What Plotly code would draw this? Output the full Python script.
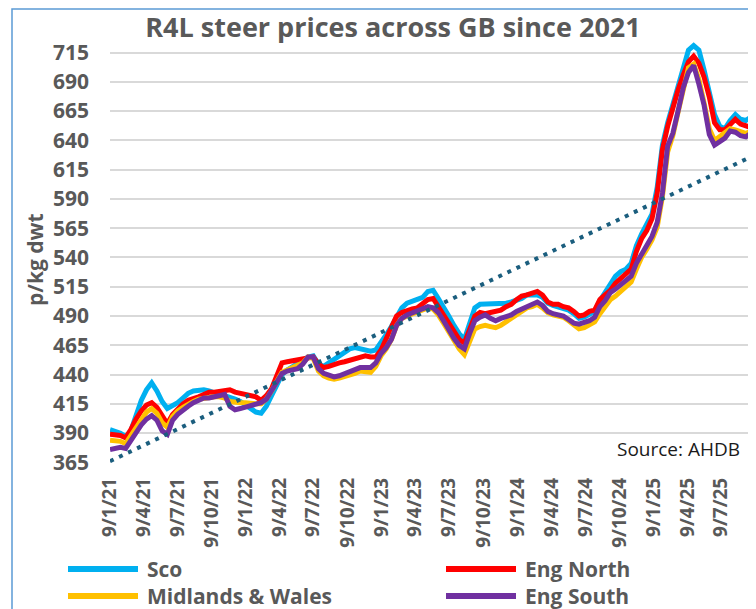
import pandas as pd
import plotly.graph_objects as go

# Fortnightly observation dates (first: 9 Jan 2021)
dates = pd.date_range("2021-01-09", periods=124, freq="14D")

series_names = ["Sco", "Eng North", "Midlands & Wales", "Eng South"]
series_colors = ["#00B0F0", "#FF0000", "#FFC000", "#7030A0"]

sco = [393, 392, 390, 387, 392, 405, 418, 427, 433, 426, 417, 411, 413, 416, 420, 424,
       426, 427, 427, 426, 424, 423, 422, 421, 419, 417, 414, 411, 408, 407, 413, 422,
       432, 440, 444, 447, 449, 452, 455, 456, 449, 447, 450, 453, 457, 460, 462, 463,
       462, 461, 460, 461, 467, 474, 481, 490, 497, 501, 503, 504, 506, 511, 512, 505,
       498, 490, 482, 475, 470, 485, 497, 500, 500, 500, 500, 501, 501, 502, 503, 505,
       508, 508, 508, 506, 501, 499, 498, 496, 495, 492, 488, 489, 492, 494, 503, 510,
       518, 524, 528, 530, 535, 550, 560, 568, 577, 600, 636, 655, 670, 688, 702, 717,
       721, 717, 700, 683, 662, 652, 650, 657, 662, 658, 657, 660]

eng_north = [389, 389, 388, 386, 393, 402, 409, 414, 416, 412, 404, 398, 406, 411, 415, 418,
             419, 421, 423, 425, 425, 426, 427, 427, 425, 424, 424, 423, 421, 418, 422, 428,
             440, 450, 451, 452, 453, 454, 455, 455, 449, 446, 447, 449, 450, 451, 452, 454,
             455, 456, 455, 455, 461, 470, 480, 490, 493, 495, 496, 497, 500, 504, 505, 498,
             490, 484, 477, 470, 467, 480, 490, 493, 492, 493, 494, 495, 498, 500, 504, 507,
             508, 510, 511, 508, 502, 500, 500, 498, 497, 494, 490, 491, 494, 495, 504, 508,
             512, 518, 522, 525, 530, 545, 556, 563, 573, 595, 632, 652, 668, 683, 696, 707,
             712, 706, 694, 677, 655, 649, 649, 653, 658, 654, 652, 651]

midlands_wales = [384, 384, 383, 381, 388, 396, 403, 408, 411, 407, 399, 395, 404, 409, 412, 415,
                  417, 419, 420, 421, 421, 421, 420, 417, 416, 416, 416, 415, 415, 415, 419, 426,
                  435, 442, 444, 446, 447, 450, 455, 454, 443, 439, 437, 436, 437, 438, 439, 441,
                  443, 443, 442, 447, 456, 462, 470, 482, 488, 490, 492, 494, 496, 497, 496, 491,
                  484, 476, 468, 462, 457, 468, 479, 481, 482, 481, 480, 482, 485, 489, 492, 495,
                  497, 498, 500, 497, 493, 491, 490, 489, 486, 482, 479, 480, 482, 485, 492, 498,
                  504, 507, 511, 514, 519, 530, 540, 547, 555, 566, 592, 630, 644, 664, 684, 702,
                  705, 692, 672, 650, 640, 643, 646, 650, 649, 647, 646, 648]

eng_south = [376, 377, 378, 377, 384, 391, 397, 402, 405, 401, 392, 389, 401, 406, 410, 413,
             416, 418, 420, 420, 421, 422, 423, 413, 410, 411, 412, 413, 415, 416, 419, 426,
             434, 441, 443, 444, 445, 449, 455, 455, 445, 441, 439, 438, 439, 441, 443, 445,
             446, 446, 446, 450, 458, 463, 470, 482, 488, 491, 493, 494, 496, 498, 497, 493,
             486, 478, 471, 465, 462, 475, 486, 489, 491, 488, 486, 488, 489, 491, 494, 496,
             497, 499, 502, 499, 494, 492, 491, 490, 487, 484, 483, 484, 486, 489, 498, 503,
             510, 513, 517, 520, 524, 535, 543, 550, 558, 570, 595, 635, 646, 665, 685, 698,
             704, 688, 670, 645, 636, 639, 642, 648, 647, 644, 643, 646]

series_values = [sco, eng_north, midlands_wales, eng_south]

# Linear trend line (start and end values)
trend_values = [366, 626]

y_ticks = [365, 390, 415, 440, 465, 490, 515, 540, 565, 590, 615, 640, 665, 690, 715]
x_tick_dates = ["2021-01-09", "2021-04-09", "2021-07-09", "2021-10-09",
                "2022-01-09", "2022-04-09", "2022-07-09", "2022-10-09",
                "2023-01-09", "2023-04-09", "2023-07-09", "2023-10-09",
                "2024-01-09", "2024-04-09", "2024-07-09", "2024-10-09",
                "2025-01-09", "2025-04-09", "2025-07-09"]
x_tick_labels = ["9/1/21", "9/4/21", "9/7/21", "9/10/21",
                 "9/1/22", "9/4/22", "9/7/22", "9/10/22",
                 "9/1/23", "9/4/23", "9/7/23", "9/10/23",
                 "9/1/24", "9/4/24", "9/7/24", "9/10/24",
                 "9/1/25", "9/4/25", "9/7/25"]

GREY = "#595959"
FONT = "'Open Sans', Lato, sans-serif"

fig = go.Figure()
for name, color, vals in zip(series_names, series_colors, series_values):
    fig.add_trace(go.Scatter(x=dates, y=vals, mode="lines", name=name,
                             line=dict(color=color, width=5), showlegend=False))

fig.add_trace(go.Scatter(x=[dates[0], dates[-1]], y=trend_values, mode="lines",
                         line=dict(color="#1B5E7E", width=4, dash="4px,6px"),
                         showlegend=False))

# The page body adds an 8px offset; layout numbers below are screen pixels.
OFF = 8
W, H = 756, 609
L, R, T, B = 110, 751, 35, 463   # plot area in screen pixels


def px(x):
    return (x - L) / (R - L)


def py(y):
    return (B - y) / (B - T)


shapes = [dict(type="rect", xref="paper", yref="paper",
               x0=px(12), x1=px(790), y0=py(640), y1=py(9),
               line=dict(color="#5B9BD5", width=1.5), fillcolor="rgba(0,0,0,0)",
               layer="below")]
annotations = []
legend_pos = [(68, 569), (446, 569), (68, 596), (446, 596)]
for (lx, ly), name, color in zip(legend_pos, series_names, series_colors):
    shapes.append(dict(type="line", xref="paper", yref="paper",
                       x0=px(lx), x1=px(lx + 70), y0=py(ly), y1=py(ly),
                       line=dict(color=color, width=6)))
    annotations.append(dict(xref="paper", yref="paper", x=px(lx + 77), y=py(ly),
                            text=name, showarrow=False, xanchor="left", yanchor="middle",
                            font=dict(family=FONT, size=21, color=GREY, weight="bold")))

annotations.append(dict(xref="paper", yref="paper", x=px(35), y=py(260),
                        text="p/kg dwt", textangle=-90, showarrow=False,
                        xanchor="center", yanchor="middle",
                        font=dict(family=FONT, size=21, color=GREY, weight="bold")))
annotations.append(dict(xref="paper", yref="paper", x=px(742), y=py(449),
                        text="Source: AHDB", showarrow=False,
                        xanchor="right", yanchor="middle",
                        font=dict(family=FONT, size=19, color="#1a1a1a")))

fig.update_layout(
    width=W, height=H,
    margin=dict(l=L - OFF, r=W - (R - OFF), t=T - OFF, b=H - (B - OFF)),
    paper_bgcolor="white", plot_bgcolor="white",
    title=dict(text="R4L steer prices across GB since 2021",
               x=(393 - OFF) / W, xanchor="center", y=1 - (28 - OFF) / H, yanchor="middle",
               font=dict(family=FONT, size=27, color=GREY, weight="bold")),
    shapes=shapes, annotations=annotations,
    xaxis=dict(type="date", range=[dates[0], dates[-1]],
               tickvals=x_tick_dates, ticktext=x_tick_labels, tickangle=-90,
               showgrid=False, zeroline=False, showline=False, ticks="",
               ticklabelstandoff=10,
               tickfont=dict(family=FONT, size=19, color=GREY, weight="bold")),
    yaxis=dict(range=[364.5, 730], tickvals=y_ticks,
               showgrid=True, gridcolor="#D9D9D9", gridwidth=2,
               zeroline=False, showline=False, ticks="",
               ticklabelstandoff=20,
               tickfont=dict(family=FONT, size=21, color=GREY, weight="bold")),
)

fig.write_html("out.html")
